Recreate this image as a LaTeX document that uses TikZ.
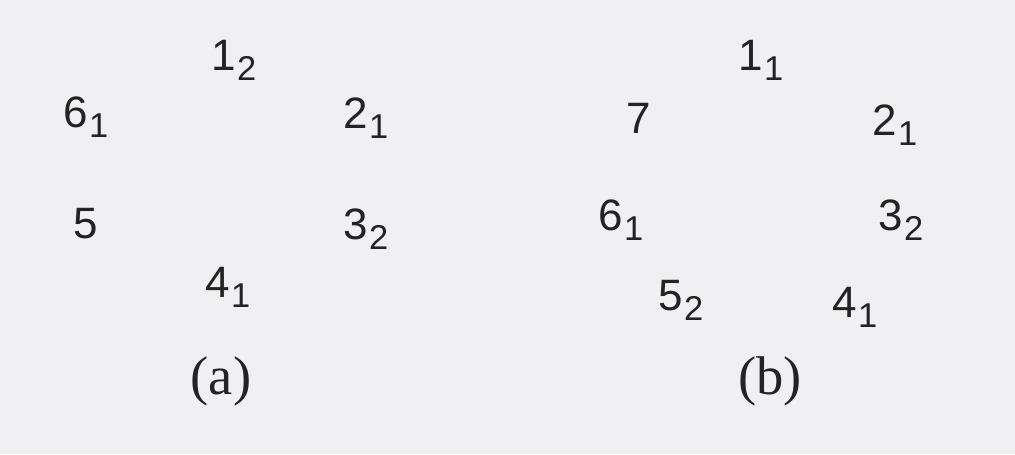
\documentclass[tikz,border=0pt]{standalone}
\usepackage{fontspec}
\setmainfont{Liberation Serif}
\newfontfamily\labfont{Liberation Sans}
\definecolor{bgcol}{RGB}{240,240,242}
\definecolor{inkcol}{RGB}{35,35,35}
\newcommand{\lab}[2]{#1\kern0.3pt\raisebox{-1mm}{\fontsize{9.8}{10}\selectfont #2}}

\begin{document}
\begin{tikzpicture}[x=0.01cm, y=-0.01cm,
    vlab/.style={anchor=base west, inner sep=0pt, text=inkcol, font=\labfont\fontsize{12.5}{14}\selectfont},
    captext/.style={anchor=base, inner sep=0pt, text=inkcol, font=\fontsize{15.5}{18}\selectfont}]

    % --- Background ---
    \fill[bgcol] (0,0) rectangle (1015,454);
    \useasboundingbox (0,0) rectangle (1015,454);

    % --- Graph (a) ---
    \node[vlab] (a1) at (211,70) {\lab{1}{2}};
    \node[vlab] (a2) at (343,128) {\lab{2}{1}};
    \node[vlab] (a3) at (343,239) {\lab{3}{2}};
    \node[vlab] (a4) at (205,297) {\lab{4}{1}};
    \node[vlab] (a5) at (73,238) {5};
    \node[vlab] (a6) at (63,127) {\lab{6}{1}};
    \node[captext] (capa) at (221,394) {(a)};

    % --- Graph (b) ---
    \node[vlab] (b1) at (738,70) {\lab{1}{1}};
    \node[vlab] (b2) at (872,135) {\lab{2}{1}};
    \node[vlab] (b3) at (878,230) {\lab{3}{2}};
    \node[vlab] (b4) at (832,317) {\lab{4}{1}};
    \node[vlab] (b5) at (658,310) {\lab{5}{2}};
    \node[vlab] (b6) at (598,230) {\lab{6}{1}};
    \node[vlab] (b7) at (626,133) {7};
    \node[captext] (capb) at (770,394) {(b)};

\end{tikzpicture}
\end{document}
